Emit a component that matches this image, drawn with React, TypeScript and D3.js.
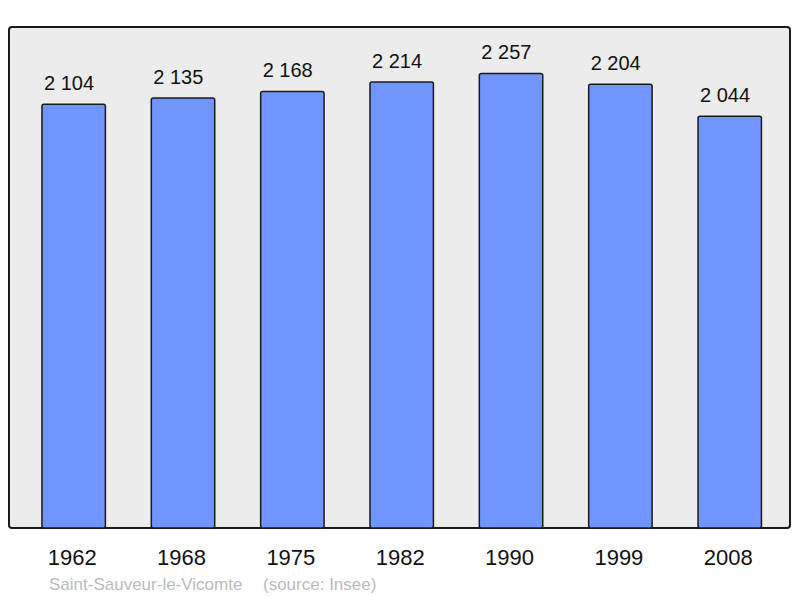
import React from "react";
import * as d3 from "d3";

const years = ["1962", "1968", "1975", "1982", "1990", "1999", "2008"];
const population = [2104, 2135, 2168, 2214, 2257, 2204, 2044];
const commune = "Saint-Sauveur-le-Vicomte";
const source = "(source: Insee)";

const fmt = (v: number) => d3.format(",")(v).replace(/,/g, " ");

export default function App() {
  const W = 800, H = 598;
  const panel = { x: 9, y: 27, w: 781, h: 501 };
  const x = d3
    .scaleBand<string>()
    .domain(years)
    .range([19, 784.4])
    .paddingInner(0.42)
    .paddingOuter(0.21);
  const maxV = d3.max(population) as number;
  const y = d3.scaleLinear().domain([0, maxV * 1.1]).range([528, 28]);
  const font = "'Liberation Sans', Arial, sans-serif";
  return (
    <svg width={W} height={H} style={{ position: "absolute", left: 0, top: 0 }}>
      <rect x={0} y={0} width={W} height={H} fill="#ffffff" />
      <rect
        x={panel.x}
        y={panel.y}
        width={panel.w}
        height={panel.h}
        rx={3}
        fill="#ececec"
        stroke="#1a1a1a"
        strokeWidth={2}
      />
      {years.map((yr, i) => {
        const v = population[i];
        const bx = x(yr) as number;
        const bw = x.bandwidth();
        const top = y(v);
        return (
          <g key={yr}>
            <rect
              x={bx}
              y={top}
              width={bw}
              height={y(0) - top}
              rx={2}
              fill="#7095ff"
              stroke="#1a1a1a"
              strokeWidth={1.5}
            />
            <text
              x={bx + 2}
              y={top - 14.5}
              textAnchor="start"
              fontFamily={font}
              fontSize={20}
              fill="#111"
            >
              {fmt(v)}
            </text>
            <text
              x={bx + bw / 2 - 1.5}
              y={565}
              textAnchor="middle"
              fontFamily={font}
              fontSize={22}
              fill="#111"
            >
              {yr}
            </text>
          </g>
        );
      })}
      <text x={49} y={590} fontFamily={font} fontSize={17} fill="#bbbbbb">
        {commune}
      </text>
      <text x={263} y={590} fontFamily={font} fontSize={17} fill="#bbbbbb">
        {source}
      </text>
    </svg>
  );
}
